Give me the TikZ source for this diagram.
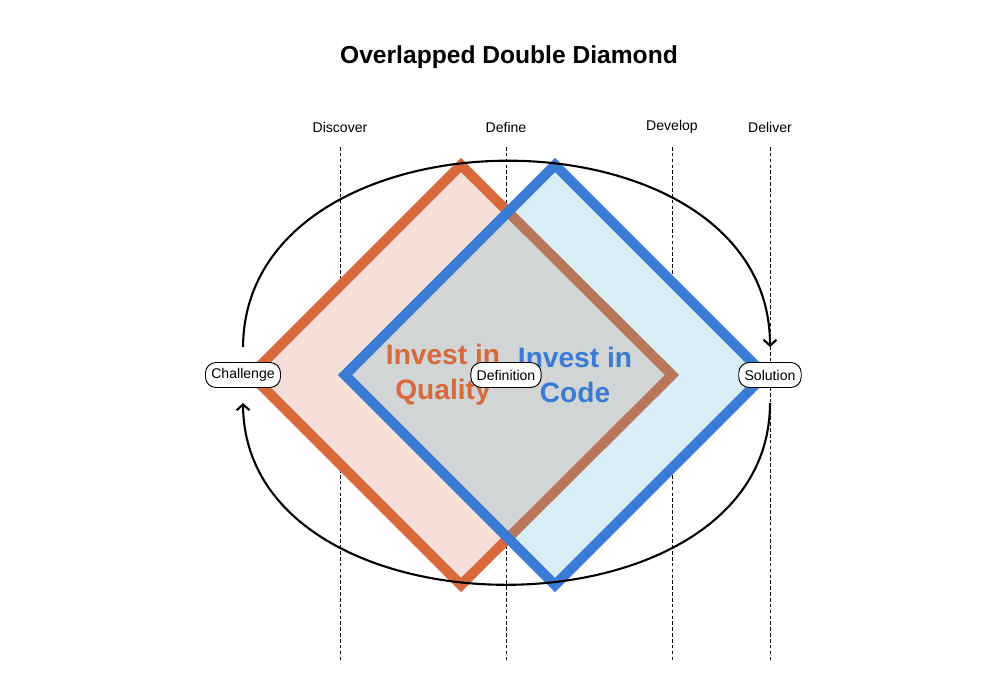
\documentclass[tikz,border=0pt]{standalone}
\usepackage{fontspec}
\setmainfont{Liberation Sans}
\usetikzlibrary{arrows.meta}
\definecolor{qorange}{HTML}{D9693A}
\definecolor{qfill}{HTML}{F6DFD8}
\definecolor{qbrown}{HTML}{B8775A}
\definecolor{cblue}{HTML}{3A7BD5}
\definecolor{cfill}{HTML}{D9EDF5}
\definecolor{both}{HTML}{D1D5D5}
\tikzset{
  phase/.style={font=\fontsize{12}{14}\selectfont},
  stage/.style={draw=black, fill=white, rounded corners=9pt, line width=0.8pt,
    minimum height=0.75cm, inner xsep=5pt, font=\fontsize{12}{14}\selectfont},
  big/.style={font=\bfseries\fontsize{24}{30}\selectfont, align=center},
  loop/.style={line width=1.8pt, -{Straight Barb[length=5pt,width=11pt]}}
}
\begin{document}
\begin{tikzpicture}[x=0.03cm, y=-0.03cm]
        \useasboundingbox (0,0) rectangle (1006,696);
        \node[font=\bfseries\fontsize{21}{24}\selectfont] (title) at (509,57) {Overlapped Double Diamond};
        % phase lines
        \foreach \x/\t in {340/Discover, 506/Define, 672/Develop, 770/Deliver} {
            \node[phase] (p\t) at (\x,127) {\t};
            \draw[densely dashed, line width=0.6pt] (\x,147) -- (\x,660);
        }
        % diamonds
        \draw[qorange, fill=qfill, line width=0.3cm, line join=miter]
            (461,165) -- (672,375) -- (461,585) -- (251,375) -- cycle;
        \fill[cfill] (555,165) -- (765,375) -- (555,585) -- (345,375) -- cycle;
        \begin{scope}
            \clip (555,165) -- (765,375) -- (555,585) -- (345,375) -- cycle;
            \draw[qbrown, fill=both, line width=0.3cm, line join=miter]
                (461,165) -- (672,375) -- (461,585) -- (251,375) -- cycle;
        \end{scope}
        \draw[cblue, line width=0.3cm, line join=miter]
            (555,165) -- (765,375) -- (555,585) -- (345,375) -- cycle;
        \node[big, text=qorange] (quality) at (443,375) {Invest in\\Quality};
        \node[big, text=cblue] (code) at (575,375) {Invest in\\Code};
        % stages
        \node[stage] (challenge) at (243,375) {Challenge};
        \node[stage] (definition) at (506,375) {Definition};
        \node[stage] (solution) at (770,375) {Solution};
        \draw[loop] ([yshift=0.45cm]challenge.north) .. controls (245,99) and (770,99) .. ([yshift=0.45cm]solution.north);
        \draw[loop] ([yshift=-0.45cm]solution.south) .. controls (770,645) and (245,645) .. ([yshift=-0.45cm]challenge.south);
\end{tikzpicture}
\end{document}
